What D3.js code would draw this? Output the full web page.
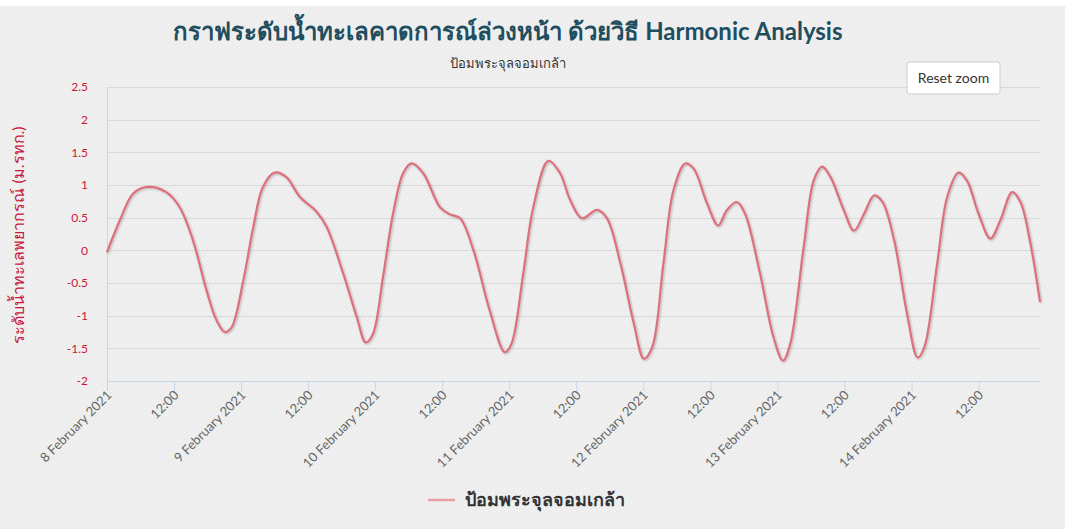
<!DOCTYPE html>
<html>
<head>
<meta charset="utf-8">
<script src="https://cdn.jsdelivr.net/npm/d3@7"></script>
<style>
  body { margin: 0; background: #fff; }
  svg { display: block; font-family: "Lato", "Noto Sans", sans-serif; }
</style>
</head>
<body>
<svg id="chart" width="1065" height="529"></svg>
<script>
// hours after 8 February 2021 00:00
var hours = [0, 2.3, 4.7, 7.3, 10.6, 13, 15.4, 17.8, 19.6, 21.1, 22.3, 24.4, 26.2, 27.9, 30, 32.1,
  34.5, 37.5, 39.3, 42.3, 44.7, 46.3, 47.6, 49.4, 51.2, 53, 54.5, 56.6, 59.6, 61.4, 63.2, 65.6,
  68.5, 71.2, 72.4, 74.5, 76.3, 79, 81.1, 82.9, 85, 87.7, 89.5, 91.9, 94.3, 96.1, 97.6, 99.6,
  101.4, 103.5, 105, 107.4, 109.4, 110.9, 112.7, 114.2, 116.9, 119.3, 121, 122.3, 124.7, 126.5,
  128, 129.5, 131.9, 133.7, 135.5, 137.3, 138.8, 140.9, 143.2, 145.1, 146.3, 148.6, 150.4, 152.4,
  153.9, 156, 158.1, 159.9, 162, 163.5, 165.3, 167];
// water level (m. MSL)
var levels = [-0.03, 0.46, 0.87, 0.97, 0.89, 0.66, 0.15, -0.61, -1.07, -1.25, -1.18, -0.46, 0.36, 0.97, 1.19, 1.12,
  0.82, 0.59, 0.36, -0.36, -1.02, -1.41, -1.28, -0.41, 0.56, 1.18, 1.33, 1.18, 0.66, 0.55, 0.49, 0,
  -0.92, -1.56, -1.43, -0.36, 0.66, 1.37, 1.18, 0.77, 0.49, 0.62, 0.49, -0.2, -1.12, -1.66, -1.48, -0.2,
  0.92, 1.33, 1.25, 0.72, 0.38, 0.61, 0.74, 0.56, -0.36, -1.33, -1.69, -1.43, 0.05, 1.07,
  1.28, 1.12, 0.61, 0.3, 0.56, 0.84, 0.74, 0.15, -0.97, -1.64, -1.48, -0.2, 0.82, 1.19,
  1.07, 0.56, 0.18, 0.46, 0.89, 0.74, 0.1, -0.79];
var yTicks = [-2, -1.5, -1, -0.5, 0, 0.5, 1, 1.5, 2, 2.5];

var titleText = "กราฟระดับน้ำทะเลคาดการณ์ล่วงหน้า ด้วยวิธี Harmonic Analysis";
var subtitleText = "ป้อมพระจุลจอมเกล้า";
var yTitle = "ระดับน้ำทะเลพยากรณ์ (ม.รทก.)";
var seriesName = "ป้อมพระจุลจอมเกล้า";

var start = Date.UTC(2021, 1, 8, 0, 0);
var data = hours.map(function(h, i) {
  return { t: new Date(start + h * 3600000), v: levels[i] };
});

var svg = d3.select("#chart");
var pLeft = 107, pRight = 1040, pTop = 87, pBottom = 381;

// textured background
var defs = svg.append("defs");
var pat = defs.append("pattern")
  .attr("id", "tex").attr("width", 4).attr("height", 4)
  .attr("patternUnits", "userSpaceOnUse");
pat.append("rect").attr("width", 4).attr("height", 4).attr("fill", "#f0f0f0");
pat.append("path").attr("d", "M0,4 L4,0").attr("stroke", "#e7e7e7").attr("stroke-width", 0.8);

var shadow = defs.append("filter").attr("id", "shadow")
  .attr("x", "-5%").attr("y", "-5%").attr("width", "110%").attr("height", "110%");
shadow.append("feDropShadow").attr("dx", 1).attr("dy", 1).attr("stdDeviation", 1)
  .attr("flood-color", "#000").attr("flood-opacity", 0.25);

svg.append("rect").attr("x", 0).attr("y", 6).attr("width", 1065).attr("height", 523)
  .attr("fill", "url(#tex)");

var x = d3.scaleUtc()
  .domain([new Date(start), new Date(start + 167 * 3600000)])
  .range([pLeft, pRight]);
var y = d3.scaleLinear().domain([-2, 2.5]).range([pBottom, pTop]);

// grid
svg.append("g").selectAll("line").data(yTicks).enter().append("line")
  .attr("x1", pLeft).attr("x2", pRight)
  .attr("y1", function(d) { return Math.round(y(d)) + 0.5; })
  .attr("y2", function(d) { return Math.round(y(d)) + 0.5; })
  .attr("stroke", "#d9d9d9").attr("stroke-width", 1);

// y axis line
svg.append("line").attr("x1", pLeft + 0.5).attr("x2", pLeft + 0.5)
  .attr("y1", pTop).attr("y2", pBottom).attr("stroke", "#c9d6e6");

// y labels
var yAxis = svg.append("g").attr("transform", "translate(" + pLeft + ",0)")
  .call(d3.axisLeft(y).tickValues(yTicks).tickSize(0).tickPadding(19)
    .tickFormat(function(d) { return String(d); }));
yAxis.select(".domain").remove();
yAxis.selectAll("text").attr("fill", "#c8173a").style("font-size", "12px")
  .style("font-family", "Lato, sans-serif");

svg.append("text")
  .attr("transform", "translate(24,235) rotate(-90)")
  .attr("text-anchor", "middle")
  .attr("fill", "#c8173a").style("font-size", "16px")
  .text(yTitle);

// x axis
var fmtDay = d3.utcFormat("%-d %B %Y"), fmtHour = d3.utcFormat("%H:%M");
var xAxis = svg.append("g").attr("transform", "translate(0," + pBottom + ")")
  .call(d3.axisBottom(x).ticks(d3.utcHour.every(12)).tickSize(10)
    .tickFormat(function(d) { return d.getUTCHours() === 0 ? fmtDay(d) : fmtHour(d); }));
xAxis.select(".domain").attr("stroke", "#c9d6e6").attr("d", "M" + pLeft + ",0.5H" + pRight);
xAxis.selectAll(".tick line").attr("stroke", "#c9d6e6");
xAxis.selectAll("text")
  .attr("fill", "#666").style("font-size", "13px").style("font-family", "Lato, sans-serif")
  .attr("text-anchor", "end")
  .attr("dy", "0").attr("y", 0)
  .attr("transform", "translate(5,15) rotate(-45)");

// series
var line = d3.line()
  .x(function(d) { return x(d.t); })
  .y(function(d) { return y(d.v); })
  .curve(d3.curveCatmullRom.alpha(0.5));

svg.append("path").datum(data)
  .attr("d", line)
  .attr("fill", "none")
  .attr("stroke", "#dc6f7b")
  .attr("stroke-width", 2.2)
  .attr("filter", "url(#shadow)");

// title
svg.append("text").attr("x", 508).attr("y", 40).attr("text-anchor", "middle")
  .attr("fill", "#1f4e5f").style("font-size", "24px").style("font-weight", "bold")
  .text(titleText);
svg.append("text").attr("x", 508).attr("y", 68).attr("text-anchor", "middle")
  .attr("fill", "#333").style("font-size", "13px")
  .text(subtitleText);

// reset zoom button
var btn = svg.append("g").attr("transform", "translate(907,62)");
btn.append("rect").attr("width", 93).attr("height", 32).attr("rx", 2)
  .attr("fill", "#fff").attr("stroke", "#cccccc");
btn.append("text").attr("x", 46.5).attr("y", 21).attr("text-anchor", "middle")
  .attr("fill", "#333").style("font-size", "14px").text("Reset zoom");

// legend
var leg = svg.append("g").attr("transform", "translate(428,500)");
leg.append("line").attr("x1", 0).attr("x2", 27).attr("y1", 0).attr("y2", 0)
  .attr("stroke", "#e8a0a6").attr("stroke-width", 2.5);
leg.append("text").attr("x", 37).attr("y", 6)
  .attr("fill", "#333").style("font-size", "18px").style("font-weight", "bold")
  .text(seriesName);
</script>
</body>
</html>
